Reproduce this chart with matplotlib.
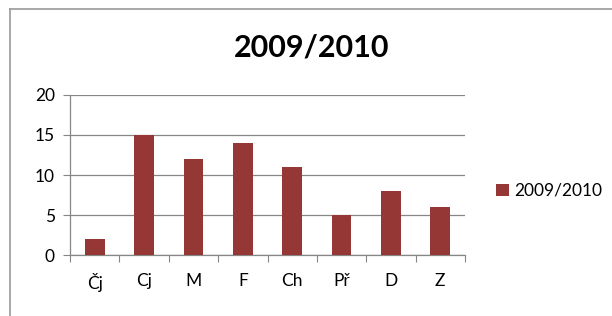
import matplotlib.pyplot as plt
import numpy as np

plt.rcParams['font.family'] = ['Lato', 'DejaVu Sans']

# data
subjects = ['Čj', 'Cj', 'M', 'F', 'Ch', 'Př', 'D', 'Z']
values_2009 = [2, 15, 12, 14, 11, 5, 8, 6]
series_name = '2009/2010'
y_ticks = [0, 5, 10, 15, 20]

bar_color = '#953735'
grid_color = '#868686'

fig = plt.figure(figsize=(6.12, 3.16), dpi=100)

# outer chart frame (only left and top show in the crop)
fig.add_artist(plt.Line2D([10/612, 10/612], [0, 1 - 9/316], color='#9a9a9a', lw=1.2))
fig.add_artist(plt.Line2D([10/612, 1], [1 - 9/316, 1 - 9/316], color='#9a9a9a', lw=1.2))

ax = fig.add_axes([70/612, 61/316, 395/612, 160/316])
x = np.arange(len(subjects))
ax.bar(x, values_2009, width=0.4, color=bar_color, label=series_name, zorder=3)

ax.set_xlim(-0.5, len(subjects) - 0.5)
ax.set_ylim(0, 20)
ax.set_yticks(y_ticks)
ax.yaxis.grid(True, color=grid_color, lw=0.9, zorder=0)

# ticks between categories on the x axis
ax.set_xticks(np.arange(-0.5, len(subjects)), minor=False)
ax.set_xticklabels([])
ax.set_xticks(x, minor=True)
ax.set_xticklabels(subjects, minor=True)
ax.tick_params(axis='x', which='major', length=5, color=grid_color, direction='out')
ax.tick_params(axis='x', which='minor', length=0, pad=13, labelsize=12.5)
ax.tick_params(axis='y', length=5, color=grid_color, pad=6, labelsize=12.5)

for side in ['top', 'right']:
    ax.spines[side].set_visible(False)
for side in ['left', 'bottom']:
    ax.spines[side].set_color(grid_color)
    ax.spines[side].set_linewidth(0.9)

fig.text(312/612, 1 - 47/316, series_name, ha='center', va='center',
         fontsize=22, fontweight='bold')

ax.legend(loc='center left', bbox_to_anchor=(1.04, 0.4), frameon=False,
          handlelength=0.7, handleheight=0.7, handletextpad=0.3, fontsize=12.5)

fig.savefig('out.png', dpi=100)
